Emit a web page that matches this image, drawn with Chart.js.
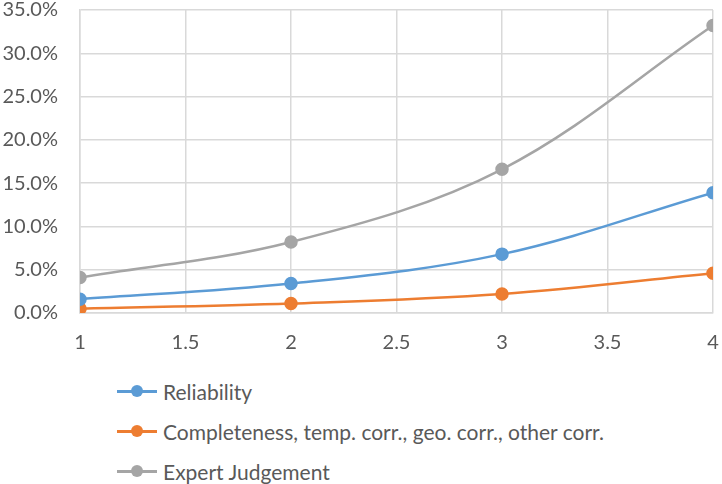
<!DOCTYPE html>
<html>
<head>
<meta charset="utf-8">
<script src="https://cdn.jsdelivr.net/npm/chart.js@4.4.1/dist/chart.umd.min.js"></script>
<style>
  body { margin: 0; background: #fff; font-family: Lato, "Open Sans", sans-serif; }
  #wrap { position: relative; width: 722px; height: 353px; }
  #legend { margin: 18px 0 0 0; padding: 0 0 0 117px; list-style: none; color: #595959; font-size: 21px; }
  #legend li { display: flex; align-items: center; height: 40px; }
  #legend .mark { position: relative; width: 40px; height: 3px; margin-right: 6px; }
  #legend .dot { position: absolute; left: 14px; top: -4.5px; width: 12px; height: 12px; border-radius: 50%; }
</style>
</head>
<body>
<div id="wrap"><canvas id="chart"></canvas></div>
<ul id="legend"></ul>
<script>
// Data
const xValues = [1, 2, 3, 4];
const reliability = [0.016, 0.034, 0.068, 0.139];
const completeness = [0.005, 0.011, 0.022, 0.046];
const expertJudgement = [0.041, 0.082, 0.166, 0.332];
const seriesNames = ['Reliability', 'Completeness, temp. corr., geo. corr., other corr.', 'Expert Judgement'];

const chartColors = {
    blue: '#5B9BD5',
    orange: '#ED7D31',
    gray: '#A5A5A5',
    grid: '#D9D9D9',
    text: '#595959'
};

function toPoints(values) {
    return xValues.map((x, i) => ({ x: x, y: values[i] }));
}

function lineDataset(label, values, color) {
    return {
        label: label,
        data: toPoints(values),
        borderColor: color,
        backgroundColor: color,
        borderWidth: 2.5,
        pointRadius: 5.5,
        pointBackgroundColor: color,
        pointBorderColor: color,
        tension: 0.35,
        fill: false
    };
}

// HTML legend, one item per row like the original
const htmlLegend = {
    id: 'htmlLegend',
    afterUpdate(chart) {
        const ul = document.getElementById('legend');
        ul.innerHTML = '';
        chart.options.plugins.legend.labels.generateLabels(chart).forEach(item => {
            const li = document.createElement('li');
            const mark = document.createElement('span');
            mark.className = 'mark';
            mark.style.background = item.strokeStyle;
            const dot = document.createElement('span');
            dot.className = 'dot';
            dot.style.background = item.fillStyle;
            mark.appendChild(dot);
            const text = document.createElement('span');
            text.textContent = item.text;
            li.appendChild(mark);
            li.appendChild(text);
            ul.appendChild(li);
        });
    }
};

Chart.defaults.font.family = 'Lato, "Open Sans", sans-serif';
Chart.defaults.font.size = 20;
Chart.defaults.color = chartColors.text;

new Chart(document.getElementById('chart'), {
    type: 'line',
    data: {
        datasets: [
            lineDataset(seriesNames[0], reliability, chartColors.blue),
            lineDataset(seriesNames[1], completeness, chartColors.orange),
            lineDataset(seriesNames[2], expertJudgement, chartColors.gray)
        ]
    },
    options: {
        responsive: true,
        maintainAspectRatio: false,
        animation: false,
        layout: { padding: { top: 10, right: 9, left: 2, bottom: 0 } },
        plugins: {
            legend: { display: false },
            tooltip: { enabled: false }
        },
        scales: {
            x: {
                type: 'linear',
                min: 1,
                max: 4,
                afterFit: (scale) => {
                    scale.height = 40;
                    scale.paddingLeft = 0;
                    scale.paddingRight = 0;
                },
                ticks: {
                    stepSize: 0.5,
                    padding: 20,
                    font: { size: 20, lineHeight: 1 },
                    callback: (value) => String(value)
                },
                grid: { color: chartColors.grid, lineWidth: 1.5, drawTicks: false },
                border: { color: chartColors.grid, width: 1.5 }
            },
            y: {
                min: 0,
                max: 0.35,
                afterFit: (scale) => {
                    scale.width = 78;
                    scale.paddingTop = 0;
                    scale.paddingBottom = 0;
                },
                ticks: {
                    stepSize: 0.05,
                    padding: 22,
                    font: { size: 20, lineHeight: 1 },
                    callback: (value) => (value * 100).toFixed(1) + '%'
                },
                grid: { color: chartColors.grid, lineWidth: 1.5, drawTicks: false },
                border: { color: chartColors.grid, width: 1.5 }
            }
        }
    },
    plugins: [htmlLegend]
});
</script>
</body>
</html>
